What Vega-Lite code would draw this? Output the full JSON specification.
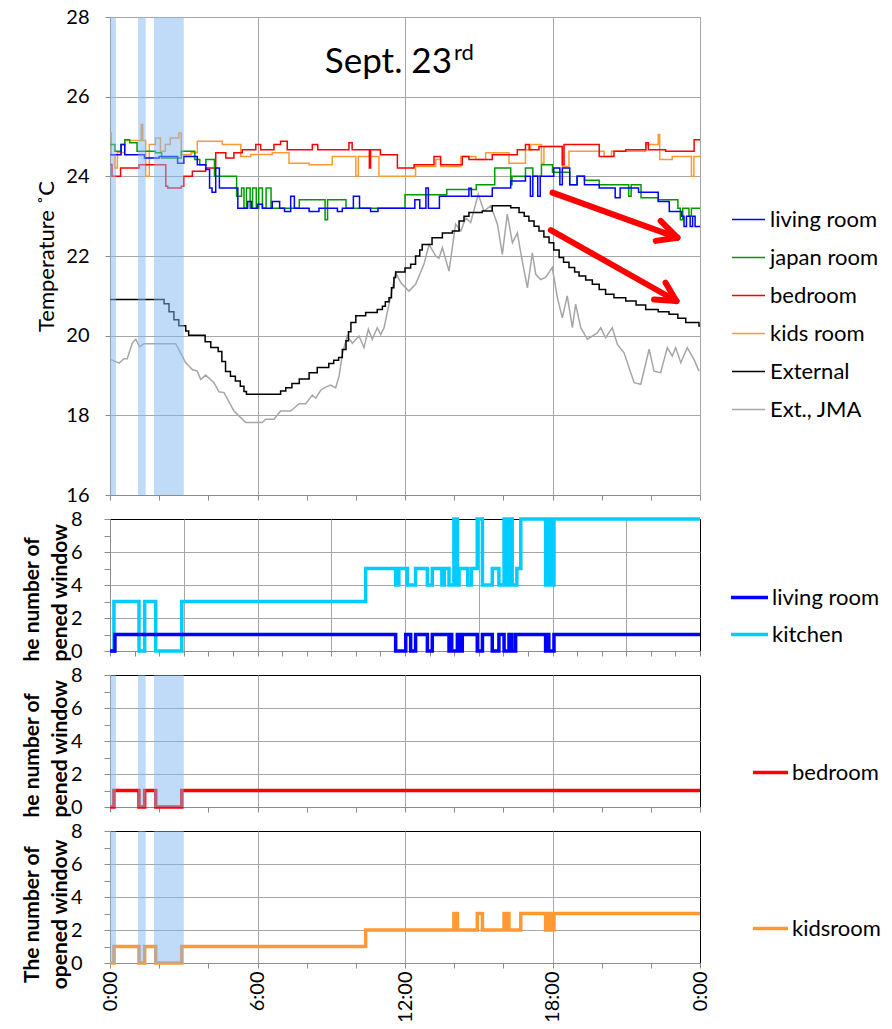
{
  "$schema": "https://vega.github.io/schema/vega-lite/v6.json",
  "padding": {"left": 20, "top": 6, "right": 5, "bottom": 5},
  "bounds": "flush",
  "spacing": 24,
  "config": {
    "font": "Lato",
    "axis": {"labelFont": "Lato", "titleFont": "Lato", "labelColor": "#000000", "titleColor": "#000000", "labelFontSize": 20, "domainColor": "#8C8C8C", "tickColor": "#8C8C8C", "gridColor": "#A6A6A6", "gridOpacity": 1},
    "legend": {"labelFont": "Lato", "labelColor": "#000000", "labelFontSize": 22, "padding": 0}
  },
  "resolve": {"scale": {"color": "independent", "x": "independent", "y": "independent"}, "legend": {"color": "independent"}},
  "datasets": {
    "bands": [{"a": 0, "b": 0.24}, {"a": 1.14, "b": 1.45}, {"a": 1.79, "b": 3.0}],
    "arrows": [
      {"x1": 18.0, "y1": 23.59, "x2": 23.08, "y2": 22.46},
      {"x1": 22.4, "y1": 22.88, "x2": 23.08, "y2": 22.46},
      {"x1": 22.2, "y1": 22.38, "x2": 23.08, "y2": 22.46},
      {"x1": 17.93, "y1": 22.65, "x2": 23.04, "y2": 20.87},
      {"x1": 22.6, "y1": 21.33, "x2": 23.04, "y2": 20.87},
      {"x1": 22.13, "y1": 20.91, "x2": 23.04, "y2": 20.87}
    ],
    "temp": [
      {"s": "External", "h": 0, "t": 20.91}, {"s": "External", "h": 2.2, "t": 20.8}, {"s": "External", "h": 2.4, "t": 20.6}, {"s": "External", "h": 2.6, "t": 20.4}, {"s": "External", "h": 2.8, "t": 20.25}, {"s": "External", "h": 3.08, "t": 20.12}, {"s": "External", "h": 3.2, "t": 20.01}, {"s": "External", "h": 3.87, "t": 19.85}, {"s": "External", "h": 4.1, "t": 19.7}, {"s": "External", "h": 4.4, "t": 19.6}, {"s": "External", "h": 4.55, "t": 19.35}, {"s": "External", "h": 4.7, "t": 19.1}, {"s": "External", "h": 4.9, "t": 18.98}, {"s": "External", "h": 5.1, "t": 18.86}, {"s": "External", "h": 5.3, "t": 18.73}, {"s": "External", "h": 5.45, "t": 18.6}, {"s": "External", "h": 5.55, "t": 18.53}, {"s": "External", "h": 6.94, "t": 18.61}, {"s": "External", "h": 7.15, "t": 18.69}, {"s": "External", "h": 7.4, "t": 18.8}, {"s": "External", "h": 7.7, "t": 18.91}, {"s": "External", "h": 8.1, "t": 19.07}, {"s": "External", "h": 8.43, "t": 19.2}, {"s": "External", "h": 8.9, "t": 19.3}, {"s": "External", "h": 9.1, "t": 19.38}, {"s": "External", "h": 9.3, "t": 19.45}, {"s": "External", "h": 9.45, "t": 19.65}, {"s": "External", "h": 9.6, "t": 19.87}, {"s": "External", "h": 9.7, "t": 20.1}, {"s": "External", "h": 9.8, "t": 20.33}, {"s": "External", "h": 10.0, "t": 20.5}, {"s": "External", "h": 10.4, "t": 20.58}, {"s": "External", "h": 10.87, "t": 20.66}, {"s": "External", "h": 11.08, "t": 20.74}, {"s": "External", "h": 11.2, "t": 20.85}, {"s": "External", "h": 11.35, "t": 20.95}, {"s": "External", "h": 11.45, "t": 21.2}, {"s": "External", "h": 11.55, "t": 21.46}, {"s": "External", "h": 11.62, "t": 21.6}, {"s": "External", "h": 12.0, "t": 21.7}, {"s": "External", "h": 12.23, "t": 21.79}, {"s": "External", "h": 12.43, "t": 22.0}, {"s": "External", "h": 12.6, "t": 22.15}, {"s": "External", "h": 12.7, "t": 22.29}, {"s": "External", "h": 13.1, "t": 22.46}, {"s": "External", "h": 13.52, "t": 22.58}, {"s": "External", "h": 13.93, "t": 22.63}, {"s": "External", "h": 14.2, "t": 22.88}, {"s": "External", "h": 14.4, "t": 23.0}, {"s": "External", "h": 14.6, "t": 23.09}, {"s": "External", "h": 15.14, "t": 23.13}, {"s": "External", "h": 15.55, "t": 23.26}, {"s": "External", "h": 16.3, "t": 23.21}, {"s": "External", "h": 16.64, "t": 23.09}, {"s": "External", "h": 16.85, "t": 23.0}, {"s": "External", "h": 17.04, "t": 22.88}, {"s": "External", "h": 17.25, "t": 22.75}, {"s": "External", "h": 17.45, "t": 22.63}, {"s": "External", "h": 17.65, "t": 22.48}, {"s": "External", "h": 17.86, "t": 22.33}, {"s": "External", "h": 18.05, "t": 22.15}, {"s": "External", "h": 18.27, "t": 21.96}, {"s": "External", "h": 18.45, "t": 21.84}, {"s": "External", "h": 18.67, "t": 21.71}, {"s": "External", "h": 18.9, "t": 21.6}, {"s": "External", "h": 19.08, "t": 21.5}, {"s": "External", "h": 19.35, "t": 21.4}, {"s": "External", "h": 19.62, "t": 21.29}, {"s": "External", "h": 19.9, "t": 21.16}, {"s": "External", "h": 20.16, "t": 21.04}, {"s": "External", "h": 20.5, "t": 20.95}, {"s": "External", "h": 20.98, "t": 20.87}, {"s": "External", "h": 21.4, "t": 20.77}, {"s": "External", "h": 21.79, "t": 20.66}, {"s": "External", "h": 22.3, "t": 20.6}, {"s": "External", "h": 22.74, "t": 20.54}, {"s": "External", "h": 23.1, "t": 20.44}, {"s": "External", "h": 23.42, "t": 20.33}, {"s": "External", "h": 23.96, "t": 20.24}, {"s": "External", "h": 24, "t": 20.24},
      {"s": "kids room", "h": 0, "t": 25.09}, {"s": "kids room", "h": 0.05, "t": 24.54}, {"s": "kids room", "h": 0.2, "t": 24.21}, {"s": "kids room", "h": 0.3, "t": 24.6}, {"s": "kids room", "h": 0.6, "t": 24.9}, {"s": "kids room", "h": 1.27, "t": 25.3}, {"s": "kids room", "h": 1.33, "t": 24.9}, {"s": "kids room", "h": 1.45, "t": 24.0}, {"s": "kids room", "h": 1.6, "t": 24.8}, {"s": "kids room", "h": 1.85, "t": 24.96}, {"s": "kids room", "h": 2.05, "t": 24.63}, {"s": "kids room", "h": 2.25, "t": 24.8}, {"s": "kids room", "h": 2.45, "t": 24.96}, {"s": "kids room", "h": 2.8, "t": 25.09}, {"s": "kids room", "h": 2.9, "t": 24.54}, {"s": "kids room", "h": 3.3, "t": 24.59}, {"s": "kids room", "h": 3.55, "t": 24.88}, {"s": "kids room", "h": 4.57, "t": 24.8}, {"s": "kids room", "h": 5.32, "t": 24.5}, {"s": "kids room", "h": 5.72, "t": 24.55}, {"s": "kids room", "h": 6.6, "t": 24.59}, {"s": "kids room", "h": 7.28, "t": 24.33}, {"s": "kids room", "h": 8.1, "t": 24.29}, {"s": "kids room", "h": 9.04, "t": 24.5}, {"s": "kids room", "h": 10.0, "t": 24.0}, {"s": "kids room", "h": 10.1, "t": 24.5}, {"s": "kids room", "h": 10.94, "t": 24.0}, {"s": "kids room", "h": 12.43, "t": 24.25}, {"s": "kids room", "h": 13.25, "t": 24.42}, {"s": "kids room", "h": 13.45, "t": 24.25}, {"s": "kids room", "h": 14.27, "t": 24.5}, {"s": "kids room", "h": 14.88, "t": 24.42}, {"s": "kids room", "h": 15.28, "t": 24.59}, {"s": "kids room", "h": 16.23, "t": 24.33}, {"s": "kids room", "h": 16.9, "t": 24.67}, {"s": "kids room", "h": 17.11, "t": 24.8}, {"s": "kids room", "h": 17.55, "t": 24.33}, {"s": "kids room", "h": 17.65, "t": 24.75}, {"s": "kids room", "h": 18.4, "t": 24.25}, {"s": "kids room", "h": 18.67, "t": 24.63}, {"s": "kids room", "h": 20.1, "t": 24.5}, {"s": "kids room", "h": 20.4, "t": 24.63}, {"s": "kids room", "h": 21.79, "t": 24.8}, {"s": "kids room", "h": 22.3, "t": 25.05}, {"s": "kids room", "h": 22.36, "t": 24.42}, {"s": "kids room", "h": 22.87, "t": 24.5}, {"s": "kids room", "h": 23.65, "t": 24.0}, {"s": "kids room", "h": 23.75, "t": 24.5}, {"s": "kids room", "h": 24, "t": 24.5},
      {"s": "bedroom", "h": 0, "t": 24.3}, {"s": "bedroom", "h": 0.08, "t": 24.0}, {"s": "bedroom", "h": 0.43, "t": 24.21}, {"s": "bedroom", "h": 1.18, "t": 24.29}, {"s": "bedroom", "h": 2.27, "t": 23.75}, {"s": "bedroom", "h": 2.35, "t": 23.71}, {"s": "bedroom", "h": 2.9, "t": 23.75}, {"s": "bedroom", "h": 3.0, "t": 24.0}, {"s": "bedroom", "h": 3.35, "t": 24.13}, {"s": "bedroom", "h": 3.89, "t": 24.21}, {"s": "bedroom", "h": 4.3, "t": 24.59}, {"s": "bedroom", "h": 4.71, "t": 24.46}, {"s": "bedroom", "h": 5.04, "t": 24.59}, {"s": "bedroom", "h": 5.38, "t": 24.67}, {"s": "bedroom", "h": 5.93, "t": 24.8}, {"s": "bedroom", "h": 6.13, "t": 24.67}, {"s": "bedroom", "h": 6.67, "t": 24.8}, {"s": "bedroom", "h": 6.94, "t": 24.88}, {"s": "bedroom", "h": 7.21, "t": 24.67}, {"s": "bedroom", "h": 8.23, "t": 24.8}, {"s": "bedroom", "h": 8.45, "t": 24.67}, {"s": "bedroom", "h": 9.72, "t": 24.84}, {"s": "bedroom", "h": 9.85, "t": 24.67}, {"s": "bedroom", "h": 10.55, "t": 24.21}, {"s": "bedroom", "h": 10.6, "t": 24.67}, {"s": "bedroom", "h": 11.0, "t": 24.54}, {"s": "bedroom", "h": 11.69, "t": 24.21}, {"s": "bedroom", "h": 12.37, "t": 24.29}, {"s": "bedroom", "h": 13.18, "t": 24.5}, {"s": "bedroom", "h": 13.45, "t": 24.29}, {"s": "bedroom", "h": 14.33, "t": 24.5}, {"s": "bedroom", "h": 14.6, "t": 24.42}, {"s": "bedroom", "h": 15.55, "t": 24.54}, {"s": "bedroom", "h": 16.57, "t": 24.67}, {"s": "bedroom", "h": 16.9, "t": 24.8}, {"s": "bedroom", "h": 17.05, "t": 24.67}, {"s": "bedroom", "h": 17.45, "t": 24.75}, {"s": "bedroom", "h": 18.4, "t": 24.29}, {"s": "bedroom", "h": 18.47, "t": 24.8}, {"s": "bedroom", "h": 19.9, "t": 24.5}, {"s": "bedroom", "h": 20.5, "t": 24.63}, {"s": "bedroom", "h": 20.98, "t": 24.67}, {"s": "bedroom", "h": 21.8, "t": 24.84}, {"s": "bedroom", "h": 21.9, "t": 24.67}, {"s": "bedroom", "h": 22.6, "t": 24.63}, {"s": "bedroom", "h": 23.76, "t": 24.92}, {"s": "bedroom", "h": 24, "t": 24.92},
      {"s": "japan room", "h": 0, "t": 24.8}, {"s": "japan room", "h": 0.2, "t": 24.63}, {"s": "japan room", "h": 0.45, "t": 24.8}, {"s": "japan room", "h": 0.6, "t": 24.92}, {"s": "japan room", "h": 0.8, "t": 24.84}, {"s": "japan room", "h": 1.1, "t": 24.63}, {"s": "japan room", "h": 1.85, "t": 24.59}, {"s": "japan room", "h": 2.1, "t": 24.46}, {"s": "japan room", "h": 2.9, "t": 24.63}, {"s": "japan room", "h": 3.45, "t": 24.42}, {"s": "japan room", "h": 3.65, "t": 24.29}, {"s": "japan room", "h": 3.9, "t": 24.42}, {"s": "japan room", "h": 4.25, "t": 24.0}, {"s": "japan room", "h": 5.15, "t": 23.5}, {"s": "japan room", "h": 5.35, "t": 23.71}, {"s": "japan room", "h": 5.45, "t": 23.2}, {"s": "japan room", "h": 5.55, "t": 23.71}, {"s": "japan room", "h": 5.7, "t": 23.2}, {"s": "japan room", "h": 5.8, "t": 23.71}, {"s": "japan room", "h": 5.95, "t": 23.2}, {"s": "japan room", "h": 6.05, "t": 23.71}, {"s": "japan room", "h": 6.2, "t": 23.2}, {"s": "japan room", "h": 6.35, "t": 23.71}, {"s": "japan room", "h": 6.55, "t": 23.2}, {"s": "japan room", "h": 7.7, "t": 23.41}, {"s": "japan room", "h": 8.75, "t": 22.91}, {"s": "japan room", "h": 8.85, "t": 23.41}, {"s": "japan room", "h": 9.6, "t": 23.2}, {"s": "japan room", "h": 12.0, "t": 23.54}, {"s": "japan room", "h": 13.7, "t": 23.67}, {"s": "japan room", "h": 14.9, "t": 23.79}, {"s": "japan room", "h": 15.65, "t": 24.21}, {"s": "japan room", "h": 16.3, "t": 23.79}, {"s": "japan room", "h": 16.35, "t": 24.0}, {"s": "japan room", "h": 16.9, "t": 24.21}, {"s": "japan room", "h": 17.2, "t": 24.0}, {"s": "japan room", "h": 17.55, "t": 24.29}, {"s": "japan room", "h": 18.0, "t": 24.1}, {"s": "japan room", "h": 18.7, "t": 23.79}, {"s": "japan room", "h": 19.0, "t": 24.0}, {"s": "japan room", "h": 19.3, "t": 23.9}, {"s": "japan room", "h": 19.9, "t": 23.79}, {"s": "japan room", "h": 21.0, "t": 23.79}, {"s": "japan room", "h": 21.1, "t": 23.5}, {"s": "japan room", "h": 21.2, "t": 23.79}, {"s": "japan room", "h": 21.6, "t": 23.46}, {"s": "japan room", "h": 22.3, "t": 23.41}, {"s": "japan room", "h": 23.1, "t": 23.2}, {"s": "japan room", "h": 23.2, "t": 22.91}, {"s": "japan room", "h": 23.3, "t": 23.2}, {"s": "japan room", "h": 23.55, "t": 23.0}, {"s": "japan room", "h": 23.65, "t": 23.2}, {"s": "japan room", "h": 24, "t": 23.2},
      {"s": "living room", "h": 0, "t": 24.54}, {"s": "living room", "h": 0.45, "t": 24.8}, {"s": "living room", "h": 0.6, "t": 24.54}, {"s": "living room", "h": 1.4, "t": 24.46}, {"s": "living room", "h": 2.0, "t": 24.5}, {"s": "living room", "h": 2.75, "t": 24.33}, {"s": "living room", "h": 3.0, "t": 24.5}, {"s": "living room", "h": 3.55, "t": 24.29}, {"s": "living room", "h": 3.9, "t": 24.17}, {"s": "living room", "h": 4.05, "t": 23.71}, {"s": "living room", "h": 4.15, "t": 23.6}, {"s": "living room", "h": 4.3, "t": 24.21}, {"s": "living room", "h": 4.45, "t": 23.71}, {"s": "living room", "h": 5.2, "t": 23.2}, {"s": "living room", "h": 5.6, "t": 23.37}, {"s": "living room", "h": 5.75, "t": 23.2}, {"s": "living room", "h": 6.0, "t": 23.3}, {"s": "living room", "h": 6.2, "t": 23.2}, {"s": "living room", "h": 6.6, "t": 23.37}, {"s": "living room", "h": 6.9, "t": 23.2}, {"s": "living room", "h": 7.1, "t": 23.12}, {"s": "living room", "h": 7.35, "t": 23.5}, {"s": "living room", "h": 7.5, "t": 23.2}, {"s": "living room", "h": 8.1, "t": 23.12}, {"s": "living room", "h": 8.5, "t": 23.2}, {"s": "living room", "h": 9.25, "t": 23.12}, {"s": "living room", "h": 9.45, "t": 23.2}, {"s": "living room", "h": 9.9, "t": 23.5}, {"s": "living room", "h": 10.15, "t": 23.2}, {"s": "living room", "h": 10.6, "t": 23.12}, {"s": "living room", "h": 10.9, "t": 23.2}, {"s": "living room", "h": 12.4, "t": 23.41}, {"s": "living room", "h": 12.6, "t": 23.2}, {"s": "living room", "h": 12.85, "t": 23.71}, {"s": "living room", "h": 12.95, "t": 23.2}, {"s": "living room", "h": 13.4, "t": 23.5}, {"s": "living room", "h": 14.6, "t": 23.7}, {"s": "living room", "h": 14.7, "t": 23.5}, {"s": "living room", "h": 15.55, "t": 23.71}, {"s": "living room", "h": 16.3, "t": 23.88}, {"s": "living room", "h": 16.9, "t": 24.0}, {"s": "living room", "h": 17.1, "t": 23.5}, {"s": "living room", "h": 17.2, "t": 24.0}, {"s": "living room", "h": 17.4, "t": 23.5}, {"s": "living room", "h": 17.5, "t": 24.0}, {"s": "living room", "h": 18.05, "t": 24.21}, {"s": "living room", "h": 18.3, "t": 23.79}, {"s": "living room", "h": 18.4, "t": 24.21}, {"s": "living room", "h": 18.7, "t": 23.79}, {"s": "living room", "h": 19.0, "t": 24.0}, {"s": "living room", "h": 19.3, "t": 23.79}, {"s": "living room", "h": 19.9, "t": 23.71}, {"s": "living room", "h": 20.55, "t": 23.46}, {"s": "living room", "h": 20.75, "t": 23.71}, {"s": "living room", "h": 21.5, "t": 23.6}, {"s": "living room", "h": 22.3, "t": 23.37}, {"s": "living room", "h": 22.75, "t": 23.12}, {"s": "living room", "h": 23.25, "t": 23.0}, {"s": "living room", "h": 23.35, "t": 22.74}, {"s": "living room", "h": 23.45, "t": 23.0}, {"s": "living room", "h": 23.6, "t": 22.74}, {"s": "living room", "h": 23.7, "t": 23.0}, {"s": "living room", "h": 23.8, "t": 22.74}, {"s": "living room", "h": 24, "t": 22.74},
      {"s": "Ext., JMA", "h": 0, "t": 19.41}, {"s": "Ext., JMA", "h": 0.37, "t": 19.31}, {"s": "Ext., JMA", "h": 0.57, "t": 19.42}, {"s": "Ext., JMA", "h": 0.7, "t": 19.42}, {"s": "Ext., JMA", "h": 0.91, "t": 19.82}, {"s": "Ext., JMA", "h": 1.05, "t": 19.91}, {"s": "Ext., JMA", "h": 1.2, "t": 19.72}, {"s": "Ext., JMA", "h": 1.38, "t": 19.8}, {"s": "Ext., JMA", "h": 2.67, "t": 19.8}, {"s": "Ext., JMA", "h": 2.87, "t": 19.57}, {"s": "Ext., JMA", "h": 3.08, "t": 19.32}, {"s": "Ext., JMA", "h": 3.35, "t": 19.15}, {"s": "Ext., JMA", "h": 3.55, "t": 19.11}, {"s": "Ext., JMA", "h": 3.69, "t": 18.9}, {"s": "Ext., JMA", "h": 3.89, "t": 19.01}, {"s": "Ext., JMA", "h": 4.23, "t": 18.82}, {"s": "Ext., JMA", "h": 4.43, "t": 18.59}, {"s": "Ext., JMA", "h": 4.64, "t": 18.57}, {"s": "Ext., JMA", "h": 5.04, "t": 18.11}, {"s": "Ext., JMA", "h": 5.52, "t": 17.82}, {"s": "Ext., JMA", "h": 6.2, "t": 17.82}, {"s": "Ext., JMA", "h": 6.33, "t": 17.9}, {"s": "Ext., JMA", "h": 6.67, "t": 17.9}, {"s": "Ext., JMA", "h": 6.94, "t": 18.11}, {"s": "Ext., JMA", "h": 7.35, "t": 18.11}, {"s": "Ext., JMA", "h": 7.69, "t": 18.29}, {"s": "Ext., JMA", "h": 7.96, "t": 18.29}, {"s": "Ext., JMA", "h": 8.23, "t": 18.51}, {"s": "Ext., JMA", "h": 8.37, "t": 18.43}, {"s": "Ext., JMA", "h": 8.57, "t": 18.63}, {"s": "Ext., JMA", "h": 8.77, "t": 18.71}, {"s": "Ext., JMA", "h": 8.98, "t": 18.76}, {"s": "Ext., JMA", "h": 9.18, "t": 18.69}, {"s": "Ext., JMA", "h": 9.32, "t": 18.99}, {"s": "Ext., JMA", "h": 9.45, "t": 19.53}, {"s": "Ext., JMA", "h": 9.65, "t": 19.99}, {"s": "Ext., JMA", "h": 9.86, "t": 19.81}, {"s": "Ext., JMA", "h": 10.13, "t": 19.99}, {"s": "Ext., JMA", "h": 10.33, "t": 19.7}, {"s": "Ext., JMA", "h": 10.51, "t": 20.16}, {"s": "Ext., JMA", "h": 10.67, "t": 19.91}, {"s": "Ext., JMA", "h": 10.87, "t": 20.2}, {"s": "Ext., JMA", "h": 11.01, "t": 20.03}, {"s": "Ext., JMA", "h": 11.15, "t": 20.2}, {"s": "Ext., JMA", "h": 11.35, "t": 20.79}, {"s": "Ext., JMA", "h": 11.62, "t": 21.58}, {"s": "Ext., JMA", "h": 11.83, "t": 21.33}, {"s": "Ext., JMA", "h": 12.16, "t": 21.12}, {"s": "Ext., JMA", "h": 12.43, "t": 21.29}, {"s": "Ext., JMA", "h": 12.77, "t": 21.79}, {"s": "Ext., JMA", "h": 12.98, "t": 22.29}, {"s": "Ext., JMA", "h": 13.25, "t": 22.0}, {"s": "Ext., JMA", "h": 13.38, "t": 21.94}, {"s": "Ext., JMA", "h": 13.52, "t": 22.21}, {"s": "Ext., JMA", "h": 13.79, "t": 21.62}, {"s": "Ext., JMA", "h": 14.06, "t": 22.8}, {"s": "Ext., JMA", "h": 14.27, "t": 22.63}, {"s": "Ext., JMA", "h": 14.47, "t": 22.96}, {"s": "Ext., JMA", "h": 14.67, "t": 22.84}, {"s": "Ext., JMA", "h": 14.98, "t": 23.55}, {"s": "Ext., JMA", "h": 15.21, "t": 23.13}, {"s": "Ext., JMA", "h": 15.49, "t": 23.26}, {"s": "Ext., JMA", "h": 15.76, "t": 22.8}, {"s": "Ext., JMA", "h": 15.96, "t": 22.04}, {"s": "Ext., JMA", "h": 16.16, "t": 23.05}, {"s": "Ext., JMA", "h": 16.37, "t": 22.33}, {"s": "Ext., JMA", "h": 16.57, "t": 22.58}, {"s": "Ext., JMA", "h": 16.77, "t": 21.87}, {"s": "Ext., JMA", "h": 16.98, "t": 21.2}, {"s": "Ext., JMA", "h": 17.18, "t": 22.08}, {"s": "Ext., JMA", "h": 17.32, "t": 21.54}, {"s": "Ext., JMA", "h": 17.52, "t": 21.41}, {"s": "Ext., JMA", "h": 17.72, "t": 21.46}, {"s": "Ext., JMA", "h": 17.99, "t": 21.71}, {"s": "Ext., JMA", "h": 18.2, "t": 20.95}, {"s": "Ext., JMA", "h": 18.4, "t": 20.45}, {"s": "Ext., JMA", "h": 18.6, "t": 21.0}, {"s": "Ext., JMA", "h": 18.81, "t": 20.2}, {"s": "Ext., JMA", "h": 18.94, "t": 20.79}, {"s": "Ext., JMA", "h": 19.15, "t": 20.2}, {"s": "Ext., JMA", "h": 19.42, "t": 19.91}, {"s": "Ext., JMA", "h": 19.62, "t": 19.99}, {"s": "Ext., JMA", "h": 19.82, "t": 20.07}, {"s": "Ext., JMA", "h": 19.96, "t": 20.2}, {"s": "Ext., JMA", "h": 20.16, "t": 19.95}, {"s": "Ext., JMA", "h": 20.43, "t": 20.2}, {"s": "Ext., JMA", "h": 20.64, "t": 19.78}, {"s": "Ext., JMA", "h": 20.91, "t": 19.57}, {"s": "Ext., JMA", "h": 21.11, "t": 19.2}, {"s": "Ext., JMA", "h": 21.32, "t": 18.82}, {"s": "Ext., JMA", "h": 21.59, "t": 18.78}, {"s": "Ext., JMA", "h": 21.93, "t": 19.66}, {"s": "Ext., JMA", "h": 22.13, "t": 19.11}, {"s": "Ext., JMA", "h": 22.4, "t": 19.07}, {"s": "Ext., JMA", "h": 22.67, "t": 19.7}, {"s": "Ext., JMA", "h": 22.87, "t": 19.49}, {"s": "Ext., JMA", "h": 23.01, "t": 19.7}, {"s": "Ext., JMA", "h": 23.22, "t": 19.32}, {"s": "Ext., JMA", "h": 23.48, "t": 19.7}, {"s": "Ext., JMA", "h": 23.75, "t": 19.41}, {"s": "Ext., JMA", "h": 23.96, "t": 19.11}
    ],
    "win": [
      {"s": "kitchen", "h": 0, "n": 0}, {"s": "kitchen", "h": 0.16, "n": 3}, {"s": "kitchen", "h": 1.18, "n": 0}, {"s": "kitchen", "h": 1.41, "n": 3}, {"s": "kitchen", "h": 1.86, "n": 0}, {"s": "kitchen", "h": 2.92, "n": 3}, {"s": "kitchen", "h": 10.4, "n": 5}, {"s": "kitchen", "h": 11.62, "n": 4}, {"s": "kitchen", "h": 11.75, "n": 5}, {"s": "kitchen", "h": 12.1, "n": 4}, {"s": "kitchen", "h": 12.43, "n": 5}, {"s": "kitchen", "h": 12.91, "n": 4}, {"s": "kitchen", "h": 13.11, "n": 5}, {"s": "kitchen", "h": 13.5, "n": 4}, {"s": "kitchen", "h": 13.6, "n": 5}, {"s": "kitchen", "h": 13.79, "n": 4}, {"s": "kitchen", "h": 13.99, "n": 8}, {"s": "kitchen", "h": 14.13, "n": 4}, {"s": "kitchen", "h": 14.2, "n": 5}, {"s": "kitchen", "h": 14.55, "n": 4}, {"s": "kitchen", "h": 14.7, "n": 5}, {"s": "kitchen", "h": 14.94, "n": 8}, {"s": "kitchen", "h": 15.15, "n": 4}, {"s": "kitchen", "h": 15.55, "n": 5}, {"s": "kitchen", "h": 15.82, "n": 4}, {"s": "kitchen", "h": 16.03, "n": 8}, {"s": "kitchen", "h": 16.16, "n": 4}, {"s": "kitchen", "h": 16.3, "n": 8}, {"s": "kitchen", "h": 16.36, "n": 4}, {"s": "kitchen", "h": 16.55, "n": 5}, {"s": "kitchen", "h": 16.71, "n": 8}, {"s": "kitchen", "h": 17.72, "n": 4}, {"s": "kitchen", "h": 17.78, "n": 8}, {"s": "kitchen", "h": 17.83, "n": 4}, {"s": "kitchen", "h": 17.9, "n": 8}, {"s": "kitchen", "h": 17.95, "n": 4}, {"s": "kitchen", "h": 18.06, "n": 8}, {"s": "kitchen", "h": 24, "n": 8},
      {"s": "living room", "h": 0, "n": 0}, {"s": "living room", "h": 0.2, "n": 1}, {"s": "living room", "h": 11.62, "n": 0}, {"s": "living room", "h": 12.03, "n": 1}, {"s": "living room", "h": 12.23, "n": 0}, {"s": "living room", "h": 12.43, "n": 1}, {"s": "living room", "h": 12.91, "n": 0}, {"s": "living room", "h": 13.11, "n": 1}, {"s": "living room", "h": 13.79, "n": 0}, {"s": "living room", "h": 13.85, "n": 1}, {"s": "living room", "h": 13.9, "n": 0}, {"s": "living room", "h": 14.13, "n": 1}, {"s": "living room", "h": 14.2, "n": 0}, {"s": "living room", "h": 14.33, "n": 1}, {"s": "living room", "h": 14.94, "n": 0}, {"s": "living room", "h": 15.15, "n": 1}, {"s": "living room", "h": 15.55, "n": 0}, {"s": "living room", "h": 15.82, "n": 1}, {"s": "living room", "h": 16.03, "n": 0}, {"s": "living room", "h": 16.23, "n": 1}, {"s": "living room", "h": 16.35, "n": 0}, {"s": "living room", "h": 16.5, "n": 1}, {"s": "living room", "h": 17.72, "n": 0}, {"s": "living room", "h": 17.8, "n": 1}, {"s": "living room", "h": 17.85, "n": 0}, {"s": "living room", "h": 18.06, "n": 1}, {"s": "living room", "h": 24, "n": 1},
      {"s": "bedroom", "h": 0, "n": 0}, {"s": "bedroom", "h": 0.16, "n": 1}, {"s": "bedroom", "h": 1.18, "n": 0}, {"s": "bedroom", "h": 1.41, "n": 1}, {"s": "bedroom", "h": 1.86, "n": 0}, {"s": "bedroom", "h": 2.92, "n": 1}, {"s": "bedroom", "h": 24, "n": 1},
      {"s": "kidsroom", "h": 0, "n": 0}, {"s": "kidsroom", "h": 0.16, "n": 1}, {"s": "kidsroom", "h": 1.18, "n": 0}, {"s": "kidsroom", "h": 1.41, "n": 1}, {"s": "kidsroom", "h": 1.86, "n": 0}, {"s": "kidsroom", "h": 2.92, "n": 1}, {"s": "kidsroom", "h": 10.4, "n": 2}, {"s": "kidsroom", "h": 13.99, "n": 3}, {"s": "kidsroom", "h": 14.13, "n": 2}, {"s": "kidsroom", "h": 14.94, "n": 3}, {"s": "kidsroom", "h": 15.15, "n": 2}, {"s": "kidsroom", "h": 16.03, "n": 3}, {"s": "kidsroom", "h": 16.1, "n": 2}, {"s": "kidsroom", "h": 16.16, "n": 3}, {"s": "kidsroom", "h": 16.23, "n": 2}, {"s": "kidsroom", "h": 16.71, "n": 3}, {"s": "kidsroom", "h": 17.72, "n": 2}, {"s": "kidsroom", "h": 17.8, "n": 3}, {"s": "kidsroom", "h": 17.85, "n": 2}, {"s": "kidsroom", "h": 17.95, "n": 3}, {"s": "kidsroom", "h": 18.0, "n": 2}, {"s": "kidsroom", "h": 18.06, "n": 3}, {"s": "kidsroom", "h": 24, "n": 3}
    ],
    "one": [{}]
  },
  "vconcat": [
    {
      "width": 590,
      "height": 478,
      "view": {"stroke": "#A6A6A6"},
      "layer": [
        {
          "data": {"name": "temp"},
          "transform": [{"filter": "datum.s === 'Ext., JMA'"}],
          "mark": {"type": "line", "strokeWidth": 1.5},
          "encoding": {
            "x": {"field": "h", "type": "quantitative", "scale": {"domain": [0, 24], "nice": false},
              "axis": {"values": [0,1,2,3,4,5,6,7,8,9,10,11,12,13,14,15,16,17,18,19,20,21,22,23,24], "labels": false, "title": null, "grid": true, "gridOpacity": {"condition": {"test": "datum.value % 3 === 0", "value": 1}, "value": 0}, "tickSize": 5}},
            "y": {"field": "t", "type": "quantitative", "scale": {"domain": [16, 28], "nice": false, "zero": false},
              "axis": {"values": [16, 18, 20, 22, 24, 26, 28], "grid": true, "tickSize": 5, "labelPadding": 16, "title": "Temperature ˚C", "titleFontSize": 22, "titleFontWeight": "normal", "titleAngle": 270, "titleX": -64, "titleY": 239, "titleAlign": "center", "titleBaseline": "middle"}},
            "color": {"field": "s", "type": "nominal",
              "scale": {"domain": ["living room", "japan room", "bedroom", "kids room", "External", "Ext., JMA"], "range": ["#0000FF", "#009900", "#FF0000", "#FF9933", "#000000", "#A6A6A6"]},
              "legend": {"orient": "none", "legendX": 621, "legendY": 185, "title": null, "symbolType": "stroke", "symbolStrokeWidth": 1.5, "symbolSize": 1089, "labelOffset": 4, "rowPadding": 9}}
          }
        },
        {
          "data": {"name": "temp"},
          "transform": [{"filter": "datum.s !== 'Ext., JMA'"}],
          "mark": {"type": "line", "interpolate": "step-after", "strokeWidth": 1.5},
          "encoding": {
            "x": {"field": "h", "type": "quantitative"},
            "y": {"field": "t", "type": "quantitative"},
            "color": {"field": "s", "type": "nominal"}
          }
        },
        {
          "data": {"name": "bands"},
          "mark": {"type": "rect", "color": "#7FB8F0", "opacity": 0.5},
          "encoding": {
            "x": {"field": "a", "type": "quantitative"},
            "x2": {"field": "b"}
          }
        },
        {
          "data": {"name": "arrows"},
          "mark": {"type": "rule", "color": "#FF0000", "strokeWidth": 6, "strokeCap": "round"},
          "encoding": {
            "x": {"field": "x1", "type": "quantitative"},
            "y": {"field": "y1", "type": "quantitative"},
            "x2": {"field": "x2"},
            "y2": {"field": "y2"}
          }
        },
        {
          "data": {"name": "one"},
          "mark": {"type": "text", "text": "Sept. 23", "fontSize": 35, "font": "Lato", "align": "right", "baseline": "alphabetic", "color": "#000000"},
          "encoding": {"x": {"datum": 13.91, "type": "quantitative"}, "y": {"datum": 26.6, "type": "quantitative"}}
        },
        {
          "data": {"name": "one"},
          "mark": {"type": "text", "text": "rd", "fontSize": 22, "font": "Lato", "align": "left", "baseline": "alphabetic", "color": "#000000"},
          "encoding": {"x": {"datum": 13.99, "type": "quantitative"}, "y": {"datum": 26.91, "type": "quantitative"}}
        }
      ]
    },
    {
      "width": 590,
      "height": 132,
      "view": {"stroke": "#000000"},
      "data": {"name": "win"},
      "transform": [{"filter": "datum.s === 'kitchen' || datum.s === 'living room'"}],
      "mark": {"type": "line", "interpolate": "step-after", "strokeWidth": 3.5},
      "encoding": {
        "x": {"field": "h", "type": "quantitative", "scale": {"domain": [0, 24], "nice": false},
          "axis": {"values": [0,1,2,3,4,5,6,7,8,9,10,11,12,13,14,15,16,17,18,19,20,21,22,23,24], "labels": false, "title": null, "grid": true, "gridOpacity": {"condition": {"test": "datum.value % 3 === 0 && datum.value > 0 && datum.value < 24", "value": 1}, "value": 0}, "tickSize": 5}},
        "y": {"field": "n", "type": "quantitative", "scale": {"domain": [0, 8], "nice": false},
          "axis": {"values": [0,1,2,3,4,5,6,7,8], "labelExpr": "datum.value % 2 === 0 ? datum.label : ''", "grid": true, "gridOpacity": {"condition": {"test": "datum.value % 2 === 0 && datum.value > 0 && datum.value < 8", "value": 1}, "value": 0}, "tickSize": 6, "labelPadding": 22, "title": ["he number of", "pened window"], "titleFontSize": 21, "titleFontWeight": "bold", "titleAngle": 270, "titleX": -78, "titleY": 142, "titleAlign": "left", "titleBaseline": "middle", "titleLineHeight": 28}},
        "color": {"field": "s", "type": "nominal",
          "scale": {"domain": ["living room", "kitchen"], "range": ["#0000FF", "#00CCFF"]},
          "legend": {"orient": "none", "legendX": 619, "legendY": 58, "title": null, "symbolType": "stroke", "symbolStrokeWidth": 3.5, "symbolSize": 1369, "labelOffset": 2, "rowPadding": 5}},
        "order": {"field": "s", "sort": "ascending"}
      }
    },
    {
      "width": 590,
      "height": 132,
      "view": {"stroke": "#000000"},
      "layer": [
        {
          "data": {"name": "win"},
          "transform": [{"filter": "datum.s === 'bedroom'"}],
          "mark": {"type": "line", "interpolate": "step-after", "strokeWidth": 3.5},
          "encoding": {
            "x": {"field": "h", "type": "quantitative", "scale": {"domain": [0, 24], "nice": false},
              "axis": {"values": [0,1,2,3,4,5,6,7,8,9,10,11,12,13,14,15,16,17,18,19,20,21,22,23,24], "labels": false, "title": null, "grid": true, "gridOpacity": {"condition": {"test": "datum.value % 3 === 0 && datum.value > 0 && datum.value < 24", "value": 1}, "value": 0}, "tickSize": 5}},
            "y": {"field": "n", "type": "quantitative", "scale": {"domain": [0, 8], "nice": false},
              "axis": {"values": [0,1,2,3,4,5,6,7,8], "labelExpr": "datum.value % 2 === 0 ? datum.label : ''", "grid": true, "gridOpacity": {"condition": {"test": "datum.value % 2 === 0 && datum.value > 0 && datum.value < 8", "value": 1}, "value": 0}, "tickSize": 6, "labelPadding": 22, "title": ["he number of", "pened window"], "titleFontSize": 21, "titleFontWeight": "bold", "titleAngle": 270, "titleX": -78, "titleY": 142, "titleAlign": "left", "titleBaseline": "middle", "titleLineHeight": 28}},
            "color": {"field": "s", "type": "nominal",
              "scale": {"domain": ["bedroom"], "range": ["#FF0000"]},
              "legend": {"orient": "none", "legendX": 641, "legendY": 78, "title": null, "symbolType": "stroke", "symbolStrokeWidth": 3.5, "symbolSize": 1225, "labelOffset": 2}}
          }
        },
        {
          "data": {"name": "bands"},
          "mark": {"type": "rect", "color": "#7FB8F0", "opacity": 0.5},
          "encoding": {"x": {"field": "a", "type": "quantitative"}, "x2": {"field": "b"}}
        }
      ]
    },
    {
      "width": 590,
      "height": 132,
      "view": {"stroke": "#000000"},
      "layer": [
        {
          "data": {"name": "win"},
          "transform": [{"filter": "datum.s === 'kidsroom'"}],
          "mark": {"type": "line", "interpolate": "step-after", "strokeWidth": 3.5},
          "encoding": {
            "x": {"field": "h", "type": "quantitative", "scale": {"domain": [0, 24], "nice": false},
              "axis": {"values": [0,1,2,3,4,5,6,7,8,9,10,11,12,13,14,15,16,17,18,19,20,21,22,23,24], "labelExpr": "datum.value % 3 === 0 ? (datum.value % 24) + ':00' : ''", "labelAngle": 270, "labelAlign": "right", "labelBaseline": "middle", "labelPadding": 3, "labelOverlap": false, "title": null, "grid": true, "gridOpacity": {"condition": {"test": "datum.value % 3 === 0 && datum.value > 0 && datum.value < 24", "value": 1}, "value": 0}, "tickSize": 5}},
            "y": {"field": "n", "type": "quantitative", "scale": {"domain": [0, 8], "nice": false},
              "axis": {"values": [0,1,2,3,4,5,6,7,8], "labelExpr": "datum.value % 2 === 0 ? datum.label : ''", "grid": true, "gridOpacity": {"condition": {"test": "datum.value % 2 === 0 && datum.value > 0 && datum.value < 8", "value": 1}, "value": 0}, "tickSize": 6, "labelPadding": 22, "title": ["The number of", "opened window"], "titleFontSize": 21, "titleFontWeight": "bold", "titleAngle": 270, "titleX": -78, "titleY": 83, "titleAlign": "center", "titleBaseline": "middle", "titleLineHeight": 28}},
            "color": {"field": "s", "type": "nominal",
              "scale": {"domain": ["kidsroom"], "range": ["#FF9933"]},
              "legend": {"orient": "none", "legendX": 641, "legendY": 78, "title": null, "symbolType": "stroke", "symbolStrokeWidth": 3.5, "symbolSize": 1225, "labelOffset": 2}}
          }
        },
        {
          "data": {"name": "bands"},
          "mark": {"type": "rect", "color": "#7FB8F0", "opacity": 0.5},
          "encoding": {"x": {"field": "a", "type": "quantitative"}, "x2": {"field": "b"}}
        }
      ]
    }
  ]
}
